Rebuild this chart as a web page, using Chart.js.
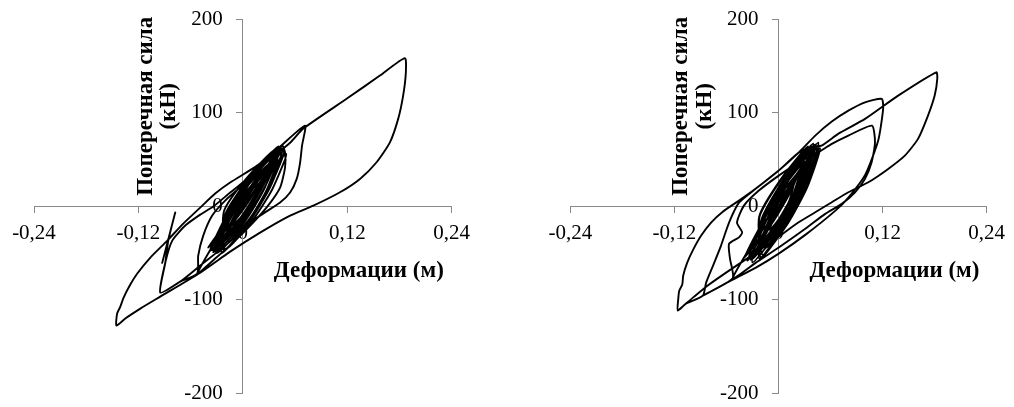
<!DOCTYPE html>
<html>
<head>
<meta charset="utf-8">
<script src="https://cdn.jsdelivr.net/npm/chart.js@4.4.0/dist/chart.umd.min.js"></script>
<style>
  html, body { margin: 0; padding: 0; background: #fff; }
  #wrap { position: relative; width: 1014px; height: 407px; }
  .box { position: absolute; top: 0; width: 507px; height: 407px; }
</style>
</head>
<body>
<div id="wrap">
  <div class="box" style="left:0"><canvas id="chartLeft" width="507" height="407"></canvas></div>
  <div class="box" style="left:507px"><canvas id="chartRight" width="507" height="407"></canvas></div>
</div>
<script>
// axis ticks and titles
const xTicks = [-0.24, -0.12, 0, 0.12, 0.24];
const xTickLabels = ['-0,24', '-0,12', '0', '0,12', '0,24'];
const yTicks = [-200, -100, 0, 100, 200];
const yTickLabels = ['-200', '-100', '0', '100', '200'];
const xTitle = 'Деформации (м)';
const yTitle = ['Поперечная сила', '(кН)'];

// left chart: [deformation m, force kN]
const leftCore = [
  [0, 0],
  [-0.012, -20], [0.002, -7.8], [0.012, 6.8], [0.018, 24], [0.004, 11.8], [-0.006, -2.8],
  [-0.018, -28], [0.001, -10], [0.015, 11], [0.024, 35], [0.005, 17], [-0.009, -4],
  [-0.026, -36], [-0.0013, -12.5], [0.0173, 14.5], [0.030, 45], [0.0053, 21.5], [-0.0133, -5.5],
  [-0.033, -44], [-0.0037, -16], [0.0187, 16], [0.034, 52], [0.0047, 24], [-0.0177, -8],
  [-0.038, -48], [-0.0063, -16.7], [0.0183, 18.7], [0.036, 58], [0.0043, 26.7], [-0.0203, -8.7],
  [-0.024, -50], [0.0063, -16.7], [0.0297, 20.7], [0.046, 62], [0.0157, 28.7], [-0.0077, -8.7],
  [-0.035, -47], [-0.0017, -14.5], [0.0237, 22.5], [0.041, 64], [0.0077, 31.5], [-0.0177, -5.5],
  [-0.030, -50], [0.004, -17.8], [0.030, 18.8], [0.048, 60], [0.014, 27.8], [-0.012, -8.8],
  [-0.040, -44], [-0.0077, -13.3], [0.0177, 21.3], [0.036, 60], [0.0037, 29.3], [-0.0217, -5.3],
  [-0.020, -46], [0.0103, -16], [0.0337, 18], [0.050, 56], [0.0197, 26], [-0.0037, -8],
  [-0.034, -49], [0.000, -15.8], [0.026, 21.8], [0.044, 64], [0.010, 30.8], [-0.016, -6.8],
  [-0.036, -46], [-0.0047, -15.7], [0.0197, 18.7], [0.037, 57], [0.0057, 26.7], [-0.0187, -7.7],
  [-0.022, -47], [0.008, -15.7], [0.031, 19.7], [0.047, 59], [0.017, 27.7], [-0.006, -7.7],
  [-0.031, -49], [0.0017, -17], [0.0253, 20], [0.040, 62], [0.0073, 30], [-0.0163, -7],
  [-0.016, -38], [0.0087, -12.2], [0.0273, 17.2], [0.040, 50], [0.0153, 24.2], [-0.0033, -5.2],
  [-0.027, -42], [0.0007, -12.2], [0.0223, 21.2], [0.038, 58], [0.0103, 28.2], [-0.0113, -5.2]
];
const leftLoopB = [
  [-0.0525, -72], [-0.0318, -55.9], [-0.0088, -36.7], [0.0118, -17.4], [0.029, 0.7], [0.0428, 20],
  [0.0485, 41.4], [0.0485, 57.4], [0.0451, 65],
  [0.0315, 46.5], [0.0141, 32.8], [-0.0031, 20], [-0.0203, 6.1], [-0.0352, -9.9], [-0.0455, -31.3],
  [-0.0513, -52.7], [-0.0525, -72]
];
const leftLoopA = [
  [-0.0719, -80.5], [-0.0949, -92.3],
  [-0.0891, -60.2], [-0.0811, -36.7], [-0.0662, -20.6], [-0.049, -8.9], [-0.0341, -0.3], [-0.0146, 14.7],
  [0.0084, 31.8], [0.0315, 50.5], [0.0543, 68], [0.0695, 83.1],
  [0.1196, 115.2], [0.1575, 139.8], [0.1862, 158.5]
];
const leftOuter = [
  [0.1873, 143], [0.1842, 118.4], [0.1785, 93.5], [0.169, 68.4], [0.1537, 47.1], [0.1346, 29.3],
  [0.1116, 15], [0.081, 0.7], [0.0543, -9.9], [0.0198, -28.1], [-0.0146, -48.5], [-0.049, -71],
  [-0.0949, -96.6], [-0.1178, -109.4], [-0.1351, -120], [-0.1453, -127.6],
  [-0.1445, -114.8], [-0.1408, -107.3], [-0.137, -97.6], [-0.1293, -83.7], [-0.1213, -71.9],
  [-0.1063, -54.8], [-0.0868, -36.7], [-0.0685, -18.5], [-0.049, -1.4], [-0.0318, 13.6],
  [-0.0146, 25.4], [0.0164, 43.5], [0.0428, 63.8], [0.0715, 86.3]
];
const leftTail = [
  [0.068, 64.9], [0.0658, 46.7], [0.062, 29.6], [0.0543, 14.7], [0.0428, 4], [0.0233, -7.8],
  [0.0084, -17.4], [-0.0146, -37.8], [-0.049, -63.4], [-0.0719, -80.5], [-0.0949, -92.3],
  [-0.0891, -60.2], [-0.0857, -36.7], [-0.0777, -6.6], [-0.0929, -61.3]
];

// right chart
const rightCore = [
  [0, 0],
  [-0.010, -25], [0.0033, -10.5], [0.0127, 6.5], [0.018, 26], [0.0047, 11.5], [-0.0047, -5.5],
  [-0.016, -34], [0.0027, -13], [0.0163, 11], [0.025, 38], [0.0063, 17], [-0.0073, -7],
  [-0.022, -42], [0.0013, -15.5], [0.0187, 14.5], [0.030, 48], [0.0067, 21.5], [-0.0107, -8.5],
  [-0.028, -48], [-0.0003, -17.7], [0.0203, 16.7], [0.034, 55], [0.0063, 24.7], [-0.0143, -9.7],
  [-0.034, -54], [-0.0037, -20], [0.0197, 18], [0.036, 60], [0.0057, 26], [-0.0177, -12],
  [-0.022, -56], [0.0077, -20], [0.0303, 20], [0.046, 64], [0.0163, 28], [-0.0063, -12],
  [-0.036, -58], [-0.0027, -20.8], [0.0227, 20.8], [0.040, 67], [0.0067, 29.8], [-0.0187, -11.8],
  [-0.030, -60], [0.0033, -21.8], [0.0287, 20.8], [0.046, 68], [0.0127, 29.8], [-0.0127, -12.8],
  [-0.040, -55], [-0.0083, -19.3], [0.0163, 20.3], [0.034, 64], [0.0023, 28.3], [-0.0223, -11.3],
  [-0.018, -52], [0.011, -18], [0.033, 20], [0.048, 62], [0.019, 28], [-0.003, -10],
  [-0.032, -57], [0.001, -20.5], [0.026, 20.5], [0.043, 66], [0.010, 29.5], [-0.015, -11.5],
  [-0.038, -52], [-0.0077, -18.7], [0.0157, 18.7], [0.032, 60], [0.0017, 26.7], [-0.0217, -10.7],
  [-0.020, -55], [0.0093, -19], [0.0317, 21], [0.047, 65], [0.0177, 29], [-0.0047, -11],
  [-0.030, -56], [0.003, -20.3], [0.027, 20.3], [0.042, 66], [0.009, 30.3], [-0.015, -10.3],
  [-0.014, -44], [0.0107, -14.2], [0.0293, 19.2], [0.042, 56], [0.0173, 26.2], [-0.0013, -7.2],
  [-0.026, -50], [0.002, -16.2], [0.024, 21.2], [0.040, 62], [0.012, 28.2], [-0.010, -9.2]
];
const rightLoop3 = [
  [-0.0528, -77], [-0.026, -60.2], [0.0003, -44.1], [0.0313, -23.8], [0.0539, -8.1], [0.073, 2.6],
  [0.0883, 15], [0.0998, 29.3], [0.1074, 47.1], [0.1113, 68.4], [0.1078, 86.3],
  [0.0806, 75.6], [0.0615, 66.7], [0.0462, 57.8], [0.0233, 47.1], [0.0003, 32.8], [-0.0226, 16.8],
  [-0.0398, 0.7], [-0.0478, -17.4], [-0.0418, -27.8], [-0.0455, -33.2], [-0.057, -40.2],
  [-0.0559, -55.9], [-0.0528, -77]
];
const rightLoop2 = [
  [-0.0872, -95.5], [-0.057, -80.5], [-0.026, -65.6], [0.0003, -50.6], [0.0313, -30.3], [0.0657, -4.6],
  [0.0806, 9.3], [0.1001, 33.9], [0.115, 70.3], [0.1207, 104.5], [0.1191, 114.9],
  [0.0998, 111.2], [0.0806, 102.3], [0.0615, 90.6], [0.0424, 75.6], [0.0233, 57.4], [0.0003, 38.2],
  [-0.026, 19], [-0.0455, 3.9], [-0.057, -17.4], [-0.0662, -42], [-0.0754, -63.4], [-0.0834, -81.6],
  [-0.0872, -95.5]
];
const rightOuter = [
  [-0.1067, -104.1], [-0.1161, -111.6],
  [-0.1155, -98.7], [-0.1144, -90.2], [-0.1109, -83.7], [-0.1098, -74.1], [-0.1052, -60.2],
  [-0.0983, -46.3], [-0.0891, -31.3], [-0.0777, -17.4], [-0.0642, -5.7], [-0.0455, 6.1], [-0.026, 19],
  [0.0003, 38.2], [0.0233, 57.4], [0.0382, 63.9], [0.0497, 64.9], [0.0692, 77.7], [0.0998, 93.5],
  [0.138, 118.4], [0.182, 143.3],
  [0.1831, 136.3], [0.1801, 118.4], [0.1724, 97], [0.1609, 72.1], [0.1457, 54.2], [0.1265, 40],
  [0.1036, 25.7], [0.0806, 15], [0.0615, 4.3], [0.0424, -6.4], [0.0233, -17.1], [0.0003, -32.4],
  [-0.026, -49.5], [-0.057, -68.8], [-0.08, -83.7], [-0.0972, -96.6], [-0.1067, -104.1], [-0.1161, -111.6]
];

Chart.defaults.font.family = '"Liberation Serif", "Times New Roman", serif';
Chart.defaults.color = '#000';

const axisGray = '#898989';

// titles sit at fixed offsets from the axes crossing
const axisTitles = {
  id: 'axisTitles',
  afterDraw(chart) {
    const { ctx, scales } = chart;
    const ox = scales.x.getPixelForValue(0);
    const oy = scales.y.getPixelForValue(0);
    const cy = oy - 100;
    ctx.save();
    ctx.fillStyle = '#000';
    ctx.font = 'bold 23px "Liberation Serif"';
    ctx.textAlign = 'center';
    ctx.textBaseline = 'alphabetic';
    ctx.fillText(xTitle, ox + 116, oy + 70.5);
    ctx.save();
    ctx.translate(ox - 91, cy);
    ctx.rotate(-Math.PI / 2);
    ctx.fillText(yTitle[0], 0, 0);
    ctx.restore();
    ctx.translate(ox - 67.5, cy);
    ctx.rotate(-Math.PI / 2);
    ctx.fillText(yTitle[1], 0, 0);
    ctx.restore();
  }
};

function makeChart(id, segments, padding) {
  const pts = [].concat(...segments).map(([x, y]) => ({ x, y }));
  return new Chart(document.getElementById(id), {
    type: 'scatter',
    data: {
      datasets: [{
        data: pts,
        showLine: true,
        borderColor: '#000',
        borderWidth: 1.9,
        pointRadius: 0,
        tension: 0.2,
        fill: false
      }]
    },
    options: {
      responsive: false,
      animation: false,
      events: [],
      layout: { padding: padding },
      plugins: { legend: { display: false }, tooltip: { enabled: false } },
      scales: {
        x: {
          type: 'linear',
          position: 'center',
          min: -0.24,
          max: 0.24,
          afterBuildTicks: s => { s.ticks = xTicks.map(v => ({ value: v })); },
          ticks: {
            callback: v => xTickLabels[xTicks.indexOf(v)],
            font: { size: 21 },
            color: '#000',
            padding: 9,
            maxRotation: 0,
            autoSkip: false
          },
          grid: { drawOnChartArea: false, tickLength: 6, color: axisGray },
          border: { color: axisGray, width: 1 }
        },
        y: {
          type: 'linear',
          position: 'center',
          min: -200,
          max: 200,
          afterBuildTicks: s => { s.ticks = yTicks.map(v => ({ value: v })); },
          // labels sit well clear of the axis; keep that gap out of the layout
          afterFit: s => { s.paddingTop = 0; s.paddingBottom = 0; },
          ticks: {
            callback: v => yTickLabels[yTicks.indexOf(v)],
            font: { size: 21 },
            color: '#000',
            padding: 14
          },
          grid: { drawOnChartArea: false, tickLength: 6, color: axisGray },
          border: { color: axisGray, width: 1 }
        }
      }
    },
    plugins: [axisTitles]
  });
}

makeChart('chartLeft', [leftCore, leftLoopB, leftLoopA, leftOuter, leftTail],
  { left: 34, right: 55.3, top: 19.3, bottom: 13.7 });
makeChart('chartRight', [rightCore, rightLoop3, rightLoop2, rightOuter],
  { left: 63.3, right: 25.3, top: 19.3, bottom: 13.7 });
</script>
</body>
</html>
